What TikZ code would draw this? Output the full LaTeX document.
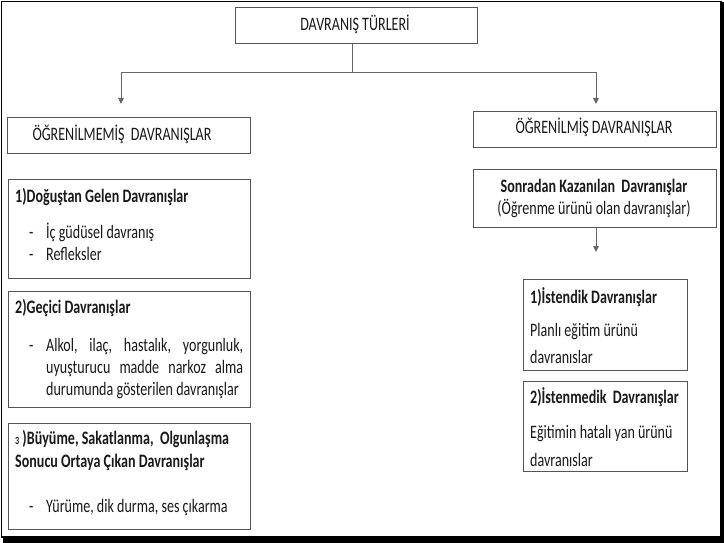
\documentclass[tikz,border=0pt]{standalone}
\usepackage{fontspec}
\setmainfont{Carlito}[FakeStretch=0.74]
\usetikzlibrary{arrows.meta}
\definecolor{boxgray}{HTML}{555555}
\definecolor{linegray}{HTML}{666666}
\definecolor{textgray}{HTML}{1A1A1A}
\tikzset{
  box/.style={draw=boxgray, line width=1.1pt},
  conn/.style={draw=linegray, line width=0.9pt},
  arr/.style={conn, -{Triangle[length=6pt,width=5.5pt]}, },
  txt/.style={anchor=base west, inner sep=0pt, text=textgray, font=\fontsize{19}{22}\selectfont},
  ttl/.style={txt, font=\fontsize{19}{22}\selectfont\bfseries},
  ctr/.style={anchor=base, inner sep=0pt, text=textgray, font=\fontsize{19}{22}\selectfont},
}
\begin{document}
\begin{tikzpicture}[x=1pt,y=-1pt]
\useasboundingbox (0,0) rectangle (724,543);
\fill[white] (0,0) rectangle (724,543);
% outer frame with shadow
\draw[black, line width=1.2pt] (1.5,1.5) rectangle (721,537);
\fill[black] (721,2) rectangle (724,543);
\fill[black] (3,537) rectangle (724,543);

% top box
\node[box, minimum width=242pt, minimum height=36pt, inner sep=0pt, anchor=north west] (top) at (235,7) {};
\node[ctr] (toptxt) at (355,31) {DAVRANIŞ TÜRLERİ};

% level 2 boxes
\node[box, minimum width=243pt, minimum height=36pt, inner sep=0pt, anchor=north west] (ogm) at (7,117) {};
\node[ctr] (ogmtxt) at (122,140) {ÖĞRENİLMEMİŞ \,DAVRANIŞLAR};
\node[box, minimum width=243pt, minimum height=36pt, inner sep=0pt, anchor=north west] (og) at (473,111) {};
\node[ctr] (ogtxt) at (594,134) {ÖĞRENİLMİŞ DAVRANIŞLAR};

% connectors from top
\coordinate (j) at (352,72);
\coordinate (lt) at (121,72);
\coordinate (rt) at (596,72);
\coordinate (la) at (121,104);
\coordinate (ra) at (596,104);
\draw[conn] (top.south -| j) -- (j);
\draw[conn] (lt) -- (rt);
\draw[arr] (lt) -- (la);
\draw[arr] (rt) -- (ra);

% left column
\node[box, minimum width=242pt, minimum height=99pt, inner sep=0pt, anchor=north west] (b1) at (8,179) {};
\node[ttl] (b1t) at (15,202) {1)Doğuştan Gelen Davranışlar};
\node[txt] (b1d1) at (29,238) {-};
\node[txt] (b1l1) at (46,238) {İç güdüsel davranış};
\node[txt] (b1d2) at (29,260) {-};
\node[txt] (b1l2) at (46,260) {Refleksler};

\node[box, minimum width=242pt, minimum height=116pt, inner sep=0pt, anchor=north west] (b2) at (8,291) {};
\node[ttl] (b2t) at (15,313) {2)Geçici Davranışlar};
\node[txt] (b2d1) at (29,351) {-};
\node[txt] (b2l1) at (46,351) {\makebox[197pt][s]{Alkol, ilaç, hastalık, yorgunluk,}};
\node[txt] (b2l2) at (46,373) {\makebox[197pt][s]{uyuşturucu madde narkoz alma}};
\node[txt] (b2l3) at (46,395) {durumunda gösterilen davranışlar};

\node[box, minimum width=242pt, minimum height=106pt, inner sep=0pt, anchor=north west] (b3) at (8,423) {};
\node[ttl] (b3t1) at (15,444) {{\fontsize{11}{12}\selectfont 3}\,)Büyüme, Sakatlanma, \ Olgunlaşma};
\node[ttl] (b3t2) at (15,467) {Sonucu Ortaya Çıkan Davranışlar};
\node[txt] (b3d1) at (29,512) {-};
\node[txt] (b3l1) at (46,512) {Yürüme, dik durma, ses çıkarma};

% right column
\node[box, minimum width=243pt, minimum height=58pt, inner sep=0pt, anchor=north west] (sk) at (473,169) {};
\node[ctr, font=\fontsize{19}{22}\selectfont\bfseries] (sk1) at (594,192) {Sonradan Kazanılan \,Davranışlar};
\node[ctr] (sk2) at (594,214) {(Öğrenme ürünü olan davranışlar)};
\coordinate (ska) at (596,252);
\draw[arr] (sk.south -| ska) -- (ska);

\node[box, minimum width=164pt, minimum height=91pt, inner sep=0pt, anchor=north west] (r1) at (523,279) {};
\node[ttl] (r1t) at (530,303) {1)İstendik Davranışlar};
\node[txt] (r1l1) at (530,336) {Planlı eğitim ürünü};
\node[txt] (r1l2) at (530,363) {davranıslar};

\node[box, minimum width=164pt, minimum height=90pt, inner sep=0pt, anchor=north west] (r2) at (523,381) {};
\node[ttl] (r2t) at (530,403) {2)İstenmedik \ Davranışlar};
\node[txt] (r2l1) at (530,438) {Eğitimin hatalı yan ürünü};
\node[txt] (r2l2) at (530,466) {davranıslar};
\end{tikzpicture}
\end{document}
